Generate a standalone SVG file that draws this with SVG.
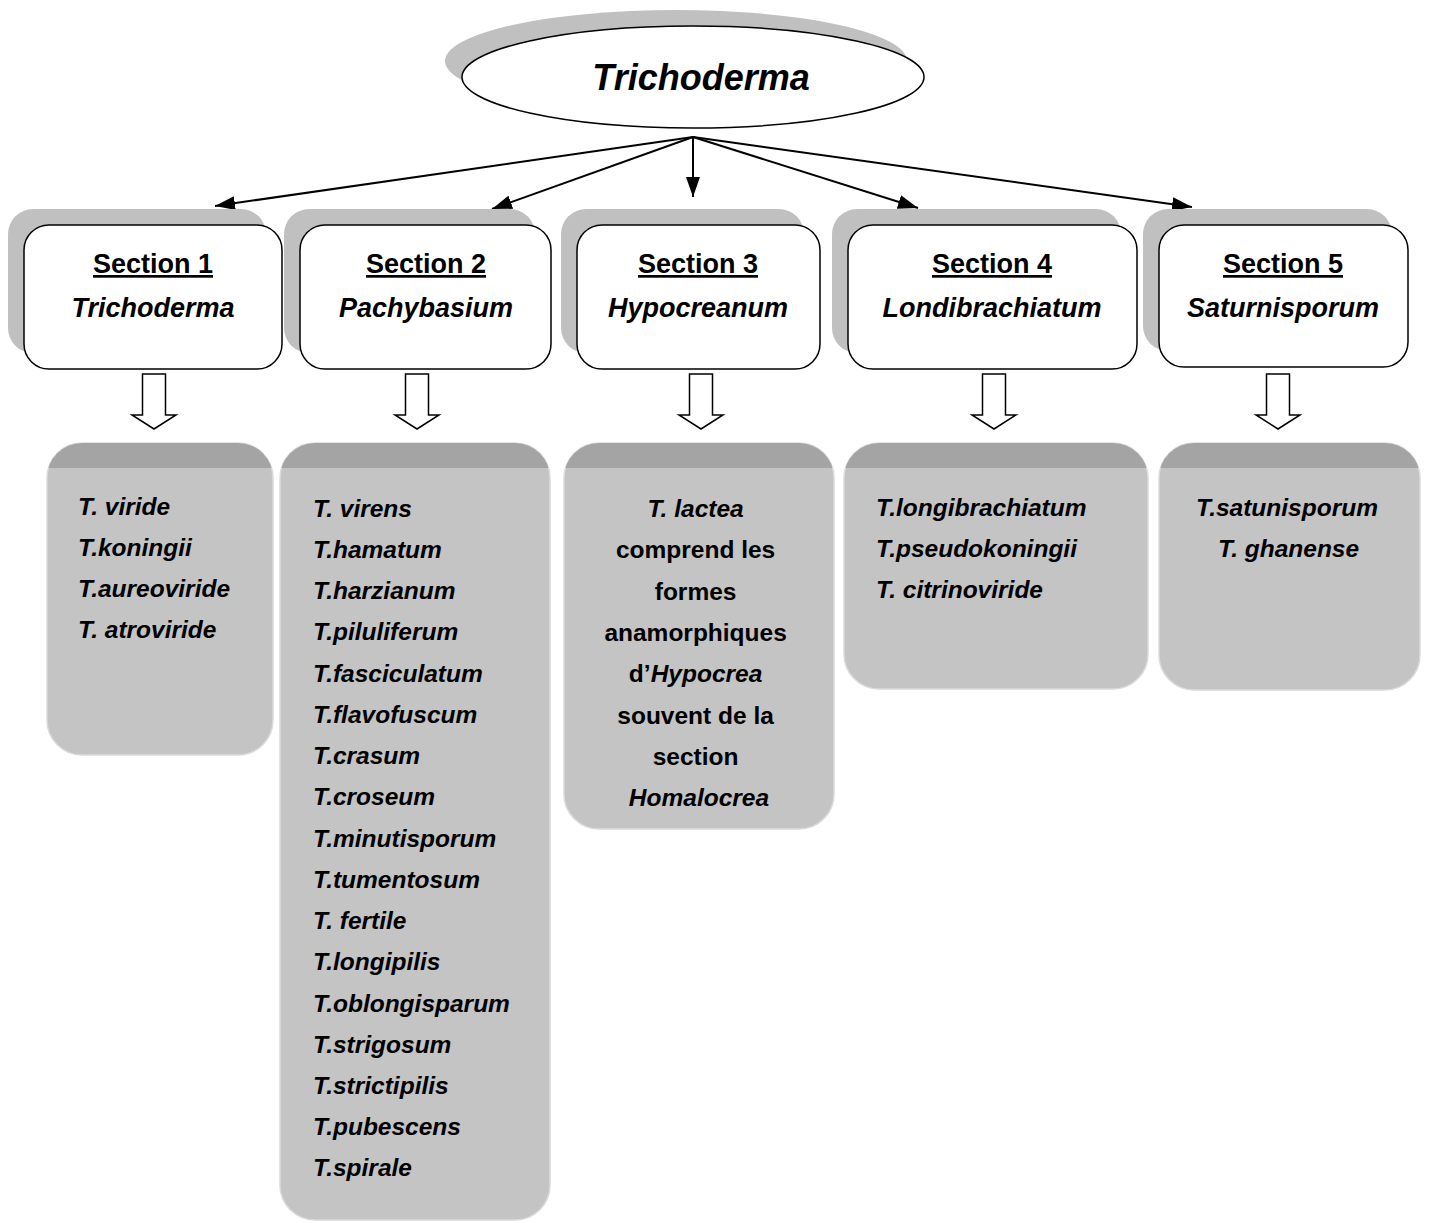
<svg xmlns="http://www.w3.org/2000/svg" width="1429" height="1223" viewBox="0 0 1429 1223">
<defs>
<style>
.t{font-family:"Liberation Sans",Arial,sans-serif;font-weight:bold;fill:#000}
.it{font-style:italic}
.sec{font-size:27px;text-anchor:middle}
.sp{font-size:24.5px;font-style:italic}
.box{fill:#fff;stroke:#000;stroke-width:1.5}
.shd{fill:#c0c0c0}
.gface{fill:#c4c4c4}
.gband{fill:#a4a4a4}
.gouter{fill:#c4c4c4;stroke:#dadada;stroke-width:1.5}
.con{stroke:#000;stroke-width:2;fill:none}
.hol{fill:#fff;stroke:#000;stroke-width:1.5}
</style>
<marker id="ah" viewBox="0 0 10 10" refX="10" refY="5" markerWidth="9" markerHeight="7" markerUnits="userSpaceOnUse" orient="auto" preserveAspectRatio="none">
<path d="M0,0 L10,5 L0,10 z" fill="#000"/>
</marker>
<marker id="ah2" viewBox="0 0 20 14" refX="20" refY="7" markerWidth="20" markerHeight="14" markerUnits="userSpaceOnUse" orient="auto">
<path d="M0,0 L20,7 L0,14 z" fill="#000"/>
</marker>
<clipPath id="cA"><rect x="47" y="443" width="226" height="312" rx="35"/></clipPath>
<clipPath id="cB"><rect x="280" y="443" width="270" height="777" rx="35"/></clipPath>
<clipPath id="cC"><rect x="564" y="443" width="270" height="386" rx="35"/></clipPath>
<clipPath id="cD"><rect x="844" y="443" width="304" height="246" rx="35"/></clipPath>
<clipPath id="cE"><rect x="1159" y="443" width="261" height="247" rx="35"/></clipPath>
</defs>
<rect width="1429" height="1223" fill="#fff"/>

<g id="root">
<ellipse class="shd" cx="676" cy="61" rx="231" ry="51"/>
<ellipse cx="693" cy="77" rx="231" ry="51" fill="#fff" stroke="#000" stroke-width="1.5"/>
<text class="t it" x="701" y="90" font-size="36" text-anchor="middle">Trichoderma</text>
</g>

<g id="connectors">
<line class="con" x1="693" y1="137" x2="215" y2="206" marker-end="url(#ah2)"/>
<line class="con" x1="693" y1="137" x2="492" y2="209" marker-end="url(#ah2)"/>
<line class="con" x1="693" y1="137" x2="693" y2="197" marker-end="url(#ah2)"/>
<line class="con" x1="693" y1="137" x2="918" y2="208" marker-end="url(#ah2)"/>
<line class="con" x1="693" y1="137" x2="1192" y2="207" marker-end="url(#ah2)"/>
<path class="hol" d="M142.5,374 H165.5 V415 H176 L154,429 L132,415 H142.5 Z"/>
<path class="hol" d="M405.5,374 H428.5 V415 H439 L417,429 L395,415 H405.5 Z"/>
<path class="hol" d="M689.5,374 H712.5 V415 H723 L701,429 L679,415 H689.5 Z"/>
<path class="hol" d="M982.5,374 H1005.5 V415 H1016 L994,429 L972,415 H982.5 Z"/>
<path class="hol" d="M1266.5,374 H1289.5 V415 H1300 L1278,429 L1256,415 H1266.5 Z"/>
</g>

<g id="section1">
<rect class="shd" x="8" y="209" width="258" height="144" rx="25"/>
<rect class="box" x="24" y="225" width="258" height="144" rx="25"/>
<text class="t sec" x="153" y="273" text-decoration="underline">Section 1</text>
<text class="t sec it" x="153" y="317">Trichoderma</text>
</g>
<g id="section2">
<rect class="shd" x="284" y="209" width="251" height="144" rx="25"/>
<rect class="box" x="300" y="225" width="251" height="144" rx="25"/>
<text class="t sec" x="426" y="273" text-decoration="underline">Section 2</text>
<text class="t sec it" x="426" y="317">Pachybasium</text>
</g>
<g id="section3">
<rect class="shd" x="561" y="209" width="243" height="144" rx="25"/>
<rect class="box" x="577" y="225" width="243" height="144" rx="25"/>
<text class="t sec" x="698" y="273" text-decoration="underline">Section 3</text>
<text class="t sec it" x="698" y="317">Hypocreanum</text>
</g>
<g id="section4">
<rect class="shd" x="832" y="209" width="289" height="144" rx="25"/>
<rect class="box" x="848" y="225" width="289" height="144" rx="25"/>
<text class="t sec" x="992" y="273" text-decoration="underline">Section 4</text>
<text class="t sec it" x="992" y="317">Londibrachiatum</text>
</g>
<g id="section5">
<rect class="shd" x="1143" y="209" width="249" height="142" rx="25"/>
<rect class="box" x="1159" y="225" width="249" height="142" rx="25"/>
<text class="t sec" x="1283" y="273" text-decoration="underline">Section 5</text>
<text class="t sec it" x="1283" y="317">Saturnisporum</text>
</g>

<g id="speciesA">
<rect class="gouter" x="47" y="443" width="226" height="312" rx="35"/>
<rect class="gband" x="47" y="443" width="226" height="25" clip-path="url(#cA)"/>
<rect class="gface" x="51" y="468" width="218" height="283" rx="30"/>
<text class="t sp" x="78" y="515">T. viride</text>
<text class="t sp" x="78" y="556">T.koningii</text>
<text class="t sp" x="78" y="597">T.aureoviride</text>
<text class="t sp" x="78" y="638">T. atroviride</text>
</g>

<g id="speciesB">
<rect class="gouter" x="280" y="443" width="270" height="777" rx="35"/>
<rect class="gband" x="280" y="443" width="270" height="25" clip-path="url(#cB)"/>
<rect class="gface" x="284" y="468" width="262" height="748" rx="30"/>
<text class="t sp" x="313" y="517">T. virens</text>
<text class="t sp" x="313" y="558">T.hamatum</text>
<text class="t sp" x="313" y="599">T.harzianum</text>
<text class="t sp" x="313" y="640">T.piluliferum</text>
<text class="t sp" x="313" y="682">T.fasciculatum</text>
<text class="t sp" x="313" y="723">T.flavofuscum</text>
<text class="t sp" x="313" y="764">T.crasum</text>
<text class="t sp" x="313" y="805">T.croseum</text>
<text class="t sp" x="313" y="847">T.minutisporum</text>
<text class="t sp" x="313" y="888">T.tumentosum</text>
<text class="t sp" x="313" y="929">T. fertile</text>
<text class="t sp" x="313" y="970">T.longipilis</text>
<text class="t sp" x="313" y="1012">T.oblongisparum</text>
<text class="t sp" x="313" y="1053">T.strigosum</text>
<text class="t sp" x="313" y="1094">T.strictipilis</text>
<text class="t sp" x="313" y="1135">T.pubescens</text>
<text class="t sp" x="313" y="1176">T.spirale</text>
</g>

<g id="speciesC">
<rect class="gouter" x="564" y="443" width="270" height="386" rx="35"/>
<rect class="gband" x="564" y="443" width="270" height="25" clip-path="url(#cC)"/>
<rect class="gface" x="568" y="468" width="262" height="357" rx="30"/>
<text class="t" font-size="24.5" text-anchor="middle">
<tspan x="699" y="517" font-style="italic">T. lactea</tspan>
<tspan x="699" y="558">comprend les</tspan>
<tspan x="699" y="600">formes</tspan>
<tspan x="699" y="641">anamorphiques</tspan>
<tspan x="699" y="682">d’<tspan font-style="italic">Hypocrea</tspan></tspan>
<tspan x="699" y="724">souvent de la</tspan>
<tspan x="699" y="765">section</tspan>
<tspan x="699" y="806" font-style="italic">Homalocrea</tspan>
</text>
</g>

<g id="speciesD">
<rect class="gouter" x="844" y="443" width="304" height="246" rx="35"/>
<rect class="gband" x="844" y="443" width="304" height="25" clip-path="url(#cD)"/>
<rect class="gface" x="848" y="468" width="296" height="217" rx="30"/>
<text class="t sp" x="876" y="516">T.longibrachiatum</text>
<text class="t sp" x="876" y="557">T.pseudokoningii</text>
<text class="t sp" x="876" y="598">T. citrinoviride</text>
</g>

<g id="speciesE">
<rect class="gouter" x="1159" y="443" width="261" height="247" rx="35"/>
<rect class="gband" x="1159" y="443" width="261" height="25" clip-path="url(#cE)"/>
<rect class="gface" x="1163" y="468" width="253" height="218" rx="30"/>
<text class="t sp" x="1196" y="516">T.satunisporum</text>
<text class="t sp" x="1218" y="557">T. ghanense</text>
</g>
</svg>
